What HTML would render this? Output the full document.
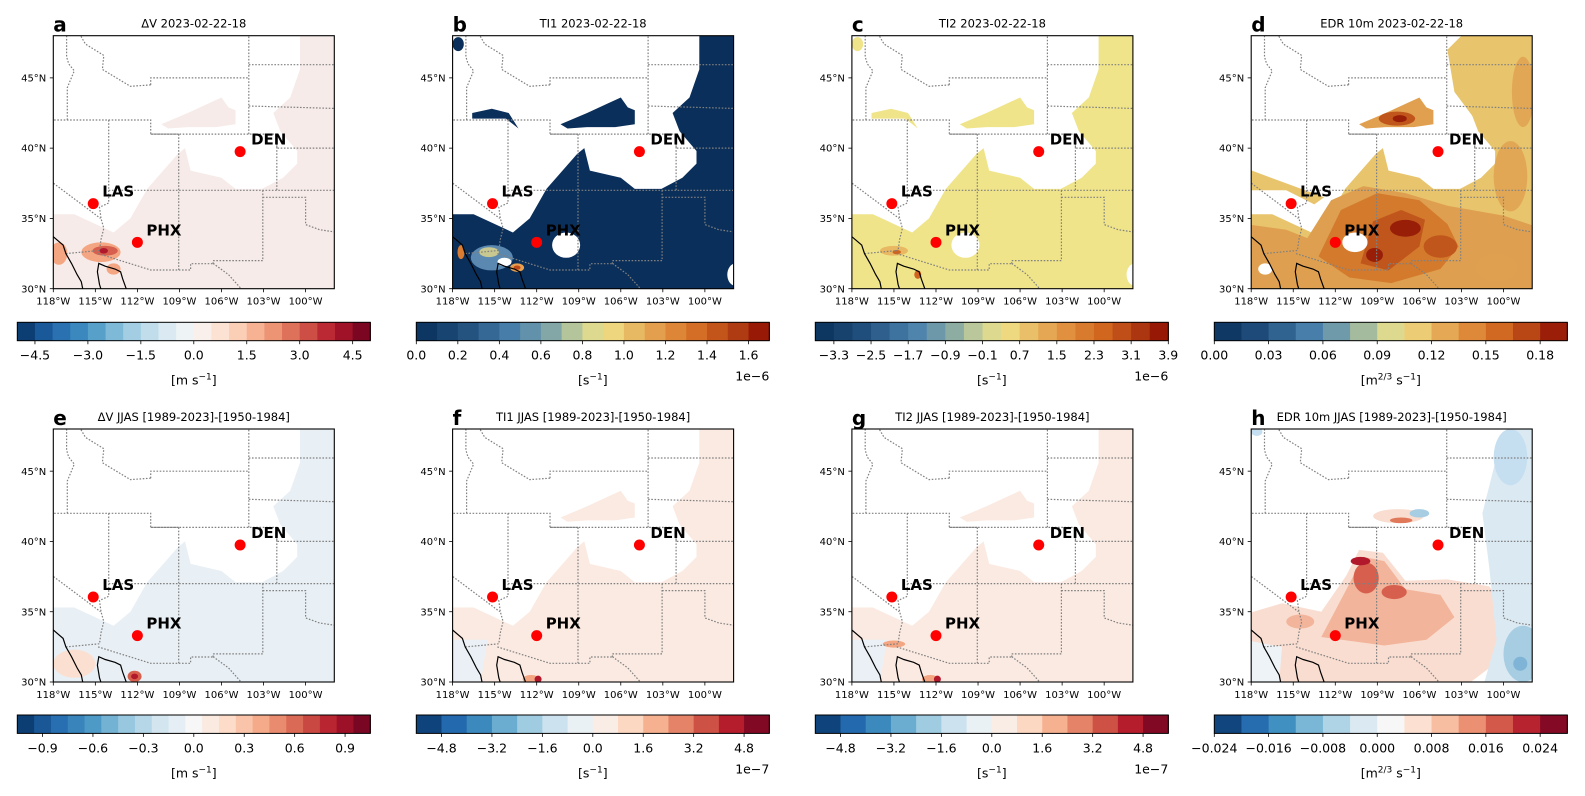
<!DOCTYPE html>
<html><head><meta charset="utf-8"><style>
html,body{margin:0;padding:0;background:#fff;}
svg{display:block;font-family:"DejaVu Sans","Liberation Sans",sans-serif;}
</style></head><body>
<svg id="fig" width="1585" height="796" viewBox="0 0 1585 796" xmlns="http://www.w3.org/2000/svg"></svg>
<script>
// ---- data ----
const cityNames = ["DEN","LAS","PHX"];
const cityLon = [-104.67,-115.15,-112.0];
const cityLat = [39.75,36.05,33.3];
const lonTicks = [-118,-115,-112,-109,-106,-103,-100];
const latTicks = [30,35,40,45];
const panelLetters = ["a","b","c","d","e","f","g","h"];
const panelTitles = ["ΔV 2023-02-22-18","TI1 2023-02-22-18","TI2 2023-02-22-18","EDR 10m 2023-02-22-18",
 "ΔV JJAS [1989-2023]-[1950-1984]","TI1 JJAS [1989-2023]-[1950-1984]","TI2 JJAS [1989-2023]-[1950-1984]","EDR 10m JJAS [1989-2023]-[1950-1984]"];
const cbMin = [-5,0,-3.7,0,-1.05,-5.6,-5.6,-0.024];
const cbMax = [5,1.7,3.9,0.195,1.05,5.6,5.6,0.028];
const cbSegs = [20,17,19,13,21,14,14,13];
const cbTicks = [
 [-4.5,-3,-1.5,0,1.5,3,4.5],
 [0,0.2,0.4,0.6,0.8,1.0,1.2,1.4,1.6],
 [-3.3,-2.5,-1.7,-0.9,-0.1,0.7,1.5,2.3,3.1,3.9],
 [0,0.03,0.06,0.09,0.12,0.15,0.18],
 [-0.9,-0.6,-0.3,0,0.3,0.6,0.9],
 [-4.8,-3.2,-1.6,0,1.6,3.2,4.8],
 [-4.8,-3.2,-1.6,0,1.6,3.2,4.8],
 [-0.024,-0.016,-0.008,0,0.008,0.016,0.024]];
const cbDecimals = [1,1,1,2,1,1,1,3];
const cbUnits = ["ms","s","s","m23","ms","s","s","m23"];
const cbExp = ["","1e−6","1e−6","","","1e−7","1e−7",""];
const cbCmap = ["rdbu","turb","turb","turb","rdbu","rdbu","rdbu","rdbu"];

// ---- geometry ----
const NS="http://www.w3.org/2000/svg";
const svg=document.getElementById('fig');
const PX0=53.3, PDX=399.3, PW=281, PH=253;
const PY=[35.7,429];
const LON0=-118, LON1=-97.95, LAT0=30, LAT1=48;
function mk(tag,attrs,parent){const e=document.createElementNS(NS,tag);for(const k in attrs)e.setAttribute(k,attrs[k]);(parent||svg).appendChild(e);return e;}
function xs(i,lon){return PX0+PDX*(i%4)+(lon-LON0)/(LON1-LON0)*PW;}
function ys(i,lat){return PY[Math.floor(i/4)]+(LAT1-lat)/(LAT1-LAT0)*PH;}
function pts(i,arr){return arr.map(p=>xs(i,p[0]).toFixed(1)+","+ys(i,p[1]).toFixed(1)).join(" ");}

function hex(h){return [parseInt(h.slice(1,3),16),parseInt(h.slice(3,5),16),parseInt(h.slice(5,7),16)];}
const RDBU=["#053061","#2166ac","#4393c3","#92c5de","#d1e5f0","#f7f7f7","#fddbc7","#f4a582","#d6604d","#b2182b","#67001f"];
const TURB=[[0,"#08305a"],[0.14,"#22507e"],[0.28,"#4a82ae"],[0.38,"#80a6a6"],[0.46,"#c4cd98"],[0.53,"#f0e48a"],[0.62,"#e8b862"],[0.72,"#e08c3c"],[0.82,"#d0641e"],[0.91,"#b03c12"],[1,"#8c0a00"]];
function interp(stops,t){for(let k=0;k<stops.length-1;k++){if(t<=stops[k+1][0]){const a=hex(stops[k][1]),b=hex(stops[k+1][1]);const f=(t-stops[k][0])/(stops[k+1][0]-stops[k][0]);return "rgb("+a.map((v,j)=>Math.round(v+(b[j]-v)*f)).join(",")+")";}}return stops[stops.length-1][1];}
function cmap(name,t){if(name==="rdbu")return interp(RDBU.map((c,k)=>[k/10,c]),t);return interp(TURB,t);}

// ---- field shapes (lon/lat) ----
const BPOLY=[[-118.5,29.5],[-118.5,35.3],[-116.5,35.3],[-113.7,34.0],[-112.5,35.0],[-111.3,37.1],[-109.1,39.6],[-108.6,40.0],[-108.2,38.4],[-106.0,37.9],[-105.0,37.1],[-103.1,37.1],[-101.6,37.9],[-100.6,38.9],[-100.6,39.8],[-101.8,41.2],[-102.3,42.5],[-101.1,43.6],[-100.4,45.6],[-100.4,48.5],[-97,48.5],[-97,29.5]];
const NBLOB=[[-110.3,41.7],[-108.4,42.5],[-106.9,43.2],[-106.0,43.6],[-105.5,42.9],[-105.0,42.7],[-105.0,41.7],[-106.4,41.5],[-108.4,41.5],[-109.8,41.4]];
const WBLOB=[[-116.6,42.5],[-115.2,42.8],[-114,42.5],[-113.3,41.4],[-114.2,42.1],[-116.6,42.1]];
const DPOLY2=[[-118.5,29.5],[-118.5,34.6],[-115.5,34.2],[-114,33.6],[-112.3,36.3],[-110,37.3],[-107,36.8],[-104,35.9],[-100,35.2],[-97,34.2],[-97,29.5]];
const DPOLY3=[[-113.2,32.3],[-111.6,35.6],[-109,36.8],[-106,36.3],[-104,34.6],[-103.2,33],[-104.5,31.4],[-108,30.4],[-111,30.8]];
const DPOLY4=[[-110.2,31.8],[-109.3,34.8],[-107.3,35.6],[-105.6,34.9],[-106,33],[-108.2,31.3]];
const HPOLY1=[[-118.5,29.5],[-118.5,34.8],[-115.8,35.6],[-113,35],[-111.2,37.6],[-110.3,39.4],[-108.6,39.2],[-107,37.2],[-104,37.3],[-101,36.8],[-99.5,34.5],[-101,31],[-103,29.5]];
const HPOLY2=[[-113,33.2],[-111.2,36.6],[-110,38.9],[-108.5,38.6],[-107,36.6],[-104.5,36.2],[-103.5,34.6],[-105.5,33],[-108.5,32.6]];
const HBLUE=[[-101.5,29.5],[-100.5,33],[-101,38],[-101.5,42],[-100.5,46],[-99,48.5],[-97,48.5],[-97,29.5]];

function layersFor(i){
 const L=[];
 const P=(c,p,o)=>L.push({t:"p",c:c,p:p,o:o||1});
 const E=(c,lon,lat,rx,ry,o)=>L.push({t:"e",c:c,lon:lon,lat:lat,rx:rx,ry:ry,o:o||1});
 if(i===0){P("#f6ebe8",BPOLY);P("#f6ebe8",NBLOB);
  E("#f4a582",-114.6,32.6,1.4,0.7);E("#d6604d",-114.3,32.7,0.9,0.35);E("#b2182b",-114.4,32.7,0.3,0.2);E("#f4a582",-113.7,31.4,0.5,0.4);E("#f4a582",-117.6,32.5,0.6,0.8);}
 if(i===1||i===2){const base=i===1?"#0a2f5a":"#f0e48a";P(base,BPOLY);P(base,NBLOB);P(base,WBLOB);E(base,-117.6,47.4,0.4,0.5);
  E("#ffffff",-109.9,33.1,1.0,0.9);E("#ffffff",-97.8,31,0.6,0.8);E("#ffffff",-113.6,34.9,0.4,0.3);
  if(i===1){E("#5a88b0",-115.2,32.2,1.5,0.9);E("#c8c890",-115.4,32.6,0.7,0.35);E("#ffffff",-114.3,31.9,0.5,0.3);E("#e8a050",-113.4,31.5,0.5,0.3);E("#c04a1a",-113.4,31.5,0.25,0.15);E("#d97b30",-117.4,32.6,0.25,0.5);}
  else{E("#e8b862",-115,32.7,1.0,0.35);E("#d0641e",-114.8,32.6,0.3,0.15);E("#d0641e",-113.3,31,0.25,0.3);}}
 if(i===3){P("#e8c46c",BPOLY);P("#e8c46c",[[-118.5,37],[-115.5,37],[-113.5,36],[-112.8,36.5],[-118.5,38.6]]);P("#e8c46c",[[-100.4,48.5],[-103,48],[-104,47],[-103.5,44],[-102,42],[-100,41],[-99,43],[-97,44]]);
  P("#dea050",DPOLY2);P("#d47a2c",DPOLY3);P("#c0561c",DPOLY4);E("#981e08",-107,34.3,1.1,0.6);E("#981e08",-109.2,32.4,0.6,0.5);E("#c0561c",-104.5,33,1.2,0.8);
  P("#e0a050",NBLOB);E("#c0561c",-107.6,42.1,1.3,0.5);E("#981e08",-107.4,42.1,0.5,0.25);
  E("#ffffff",-110.6,33.3,0.9,0.7);E("#ffffff",-117,31.4,0.5,0.4);E("#e0a050",-99.5,38,1.2,2.5,0.8);E("#e0a050",-98.6,44,0.8,2.5,0.8);E("#dea050",-100.5,31.5,1.5,1,0.8);}
 if(i===4){P("#e8eff5",BPOLY);E("#fbe0d2",-116.5,31.3,1.5,1);E("#d6604d",-112.2,30.4,0.5,0.4);E("#b2182b",-112.2,30.4,0.25,0.2);}
 if(i===5||i===6){P("#fbeae2",BPOLY);P("#eaf0f5",[[-118.5,30],[-116,30],[-115.5,33],[-118.5,33]]);P("#fbeae2",NBLOB);E("#f4a582",-112.4,30.2,0.6,0.3);E("#b2182b",-111.9,30.2,0.25,0.25);
  if(i===6){E("#f4a582",-115,32.7,0.8,0.25);}}
 if(i===7){P("#f9ddd0",HPOLY1);P("#eef3f7",[[-118.5,30],[-116,30],[-115.8,32.5],[-118.5,33]]);P("#f2b49a",HPOLY2);
  E("#d6604d",-109.8,37.4,0.9,1.1);E("#d6604d",-107.8,36.4,0.9,0.5);E("#b2182b",-110.2,38.6,0.7,0.3);E("#f2b49a",-114.5,34.3,1,0.5);
  P("#dbe9f2",HBLUE);E("#a6cde2",-98.6,32,1.4,2);E("#7fb4d6",-98.8,31.3,0.5,0.5);E("#c6dff0",-99.5,46,1.2,2);
  E("#f9ddd0",-107.5,41.8,1.8,0.5);E("#e0785a",-107.3,41.5,0.8,0.2);E("#a6cde2",-106,42,0.7,0.3);E("#c6dff0",-117.6,47.8,0.4,0.3);}
 return L;
}

// ---- borders ----
const STATE_LINES=[
 [[-120,42],[-111.05,42],[-111.05,41],[-109.05,41]],
 [[-114.05,42],[-114.05,36.1],[-114.7,35.8],[-114.6,35],[-114.4,34.3],[-114.6,33.5],[-114.7,32.72]],
 [[-120,39],[-114.63,35]],
 [[-114.05,37],[-97,37]],
 [[-109.05,41],[-109.05,31.33]],
 [[-111.05,41],[-102.05,41],[-102.05,40],[-97,40]],
 [[-102.05,41],[-102.05,37]],
 [[-111.05,44.5],[-111.05,45],[-104.05,45]],
 [[-104.05,41],[-104.05,49]],
 [[-104.05,43],[-97,42.8]],
 [[-104.05,45.94],[-97,45.94]],
 [[-111.05,44.5],[-112.5,44.4],[-113.5,45],[-114.5,45.6],[-114.4,46.6],[-115.7,47.4],[-116.05,48],[-116.05,49]],
 [[-117,42],[-117,44.3],[-116.5,45.5],[-116.9,46],[-117.05,46.5],[-117.05,49]],
 [[-103.05,37],[-103.05,32],[-106.6,32],[-106.6,31.8]],
 [[-106.6,31.8],[-105.5,31],[-104.6,30],[-104.4,29.5]],
 [[-114.8,32.5],[-111.05,31.33],[-108.2,31.33],[-108.2,31.78],[-106.5,31.78]],
 [[-117.1,32.5],[-114.72,32.72]],
 [[-103.05,36.5],[-100,36.5],[-100,34.56],[-99,34.2],[-97,33.9]]];
const COAST_LINES=[
 [[-118.5,34],[-118,33.7],[-117.3,33.1],[-117.1,32.5],[-116.7,31.8],[-116.3,31],[-116,30.5],[-115.8,29.5]],
 [[-114.45,29.5],[-114.7,30.3],[-114.85,31.2],[-114.75,31.8],[-114.3,31.6],[-113.6,31.4],[-113.2,31.2],[-113.05,30.7],[-112.8,30],[-112.6,29.5]]];

const defs=mk('defs',{});
for(let i=0;i<8;i++){
 const x0=PX0+PDX*(i%4), y0=PY[Math.floor(i/4)];
 const cp=mk('clipPath',{id:'clip'+i},defs);mk('rect',{x:x0,y:y0,width:PW,height:PH},cp);
 const g=mk('g',{'clip-path':'url(#clip'+i+')'});
 
 
 mk('rect',{x:x0,y:y0,width:PW,height:PH,fill:'#fff'},g);
 const fg=mk('g',{},g);
 
 
 for(const l of layersFor(i)){
  if(l.t==="p")mk('polygon',{points:pts(i,l.p),fill:l.c,'fill-opacity':l.o},fg);
  else mk('ellipse',{cx:xs(i,l.lon),cy:ys(i,l.lat),rx:l.rx*PW/(LON1-LON0),ry:l.ry*PH/(LAT1-LAT0),fill:l.c,'fill-opacity':l.o},fg);
 }
 const bg=mk('g',{fill:'none'},g);
 
 
 for(const ln of STATE_LINES)mk('polyline',{points:pts(i,ln),stroke:'#808080','stroke-width':1.2,'stroke-dasharray':'1.6,1.6'},bg);
 const cg=mk('g',{fill:'none'},g);
 
 
 for(const ln of COAST_LINES)mk('polyline',{points:pts(i,ln),stroke:'#000','stroke-width':1.2},cg);
 for(let c=0;c<cityNames.length;c++){
  const cx=xs(i,cityLon[c]),cy=ys(i,cityLat[c]);
  const m=mk('circle',{cx:cx,cy:cy,r:5.5,fill:'#ff0000'});
  
  
  const t=mk('text',{x:cx+(c===0?11:9),y:cy-7,'font-size':'15','font-weight':'bold',fill:'#000'});
  t.textContent=cityNames[c];
  
  
 }
 const fr=mk('rect',{x:x0,y:y0,width:PW,height:PH,fill:'none',stroke:'#000','stroke-width':1.1});
 
 
 for(const lon of lonTicks){const x=xs(i,lon);mk('line',{x1:x,x2:x,y1:y0+PH,y2:y0+PH+3.5,stroke:'#000','stroke-width':0.8});
  const t=mk('text',{x:x,y:y0+PH+16,'font-size':'10','text-anchor':'middle'});t.textContent=(-lon)+'°W';
  
  }
 for(const lat of latTicks){const y=ys(i,lat);mk('line',{x1:x0-3.5,x2:x0,y1:y,y2:y,stroke:'#000','stroke-width':0.8});
  const t=mk('text',{x:x0-7,y:y+3.6,'font-size':'10','text-anchor':'end'});t.textContent=lat+'°N';
  
  }
 const tt=mk('text',{x:x0+PW/2,y:y0-8,'font-size':'11.5','text-anchor':'middle'});tt.textContent=panelTitles[i];
 
 
 const lt=mk('text',{x:x0,y:y0-4,'font-size':'20','font-weight':'bold'});lt.textContent=panelLetters[i];
 
 
 const cbx=17.3+399*(i%4), cbw=353, cby=(i<4?322.3:715), cbh=18.4;
 const cbg=mk('g',{});
 
 
 const n=cbSegs[i], sw=cbw/n;
 const vx=v=>cbx+(v-cbMin[i])/(cbMax[i]-cbMin[i])*cbw;
 for(let s=0;s<n;s++){
  const r=mk('rect',{x:(cbx+s*sw).toFixed(2),y:cby,width:(sw+0.6).toFixed(2),height:cbh,fill:cmap(cbCmap[i],(s+0.5)/n)},cbg);
  
  
 }
 mk('rect',{x:cbx,y:cby,width:cbw,height:cbh,fill:'none',stroke:'#000','stroke-width':1},cbg);
 for(const v of cbTicks[i]){const x=vx(v);mk('line',{x1:x,x2:x,y1:cby+cbh,y2:cby+cbh+3.5,stroke:'#000','stroke-width':0.8},cbg);
  const t=mk('text',{x:x,y:cby+cbh+19,'font-size':'12.5','text-anchor':'middle'},cbg);
  t.textContent=v.toFixed(cbDecimals[i]).replace('-','−');
  
  }
 const u=mk('text',{x:cbx+cbw/2,y:cby+cbh+44,'font-size':'12.5','text-anchor':'middle'},cbg);
 
 
 if(cbUnits[i]==="ms")u.innerHTML='[m s<tspan dy="-5" font-size="9">−1</tspan><tspan dy="5">]</tspan>';
 else if(cbUnits[i]==="s")u.innerHTML='[s<tspan dy="-5" font-size="9">−1</tspan><tspan dy="5">]</tspan>';
 else u.innerHTML='[m<tspan dy="-5" font-size="9">2/3</tspan><tspan dy="5"> s</tspan><tspan dy="-5" font-size="9">−1</tspan><tspan dy="5">]</tspan>';
 if(cbExp[i]){const e=mk('text',{x:cbx+cbw,y:cby+cbh+40,'font-size':'12.5','text-anchor':'end'},cbg);e.textContent=cbExp[i];
  
  }
}
</script>
</body></html>
